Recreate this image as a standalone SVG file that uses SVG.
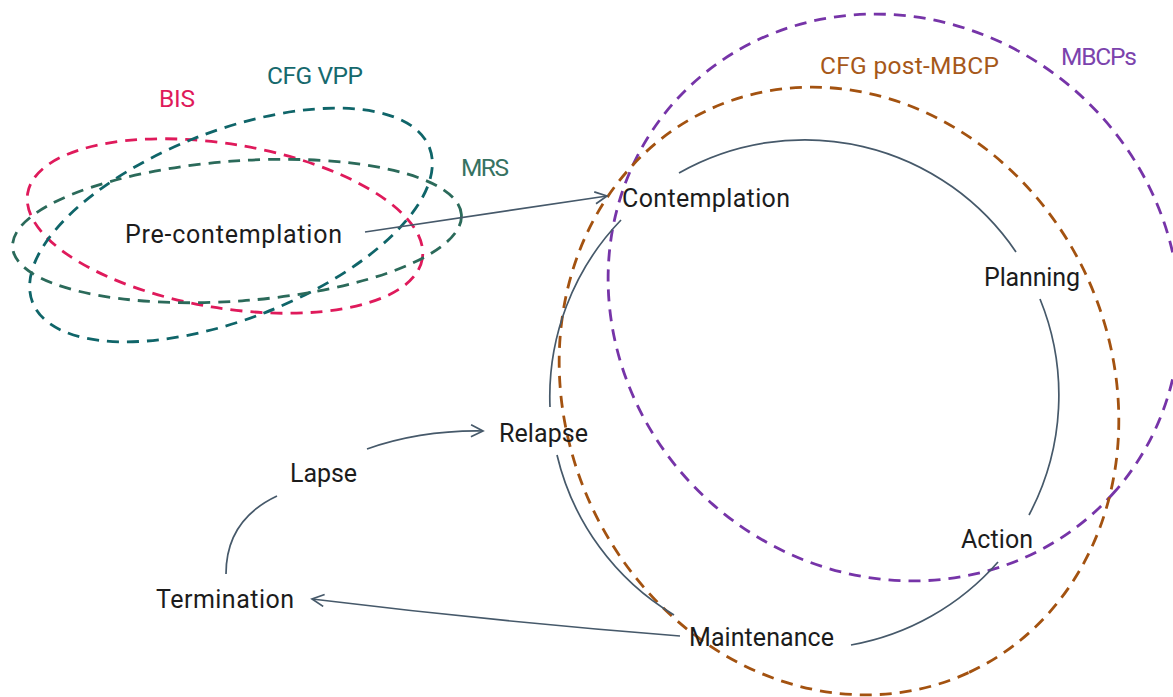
<svg xmlns="http://www.w3.org/2000/svg" width="1173" height="697" viewBox="0 0 1173 697">
<style>
.t{font-family:Roboto,"Liberation Sans",sans-serif;font-size:25px;fill:#1c1c1c}
.lab{font-family:Roboto,"Liberation Sans",sans-serif;font-size:24.5px}
.reg{fill:none;stroke-width:2.8;stroke-dasharray:12 8}
.c{fill:none;stroke:#46596a;stroke-width:1.7}
</style>
<defs>
<marker id="arr" markerUnits="userSpaceOnUse" markerWidth="16" markerHeight="16" refX="13" refY="7" orient="auto">
<path d="M1,1 L13,7 L1,13" fill="none" stroke="#46596a" stroke-width="1.7"/>
</marker>
</defs>
<rect width="1173" height="697" fill="#ffffff"/>

<g id="region-bis">
<ellipse class="reg" cx="225" cy="226" rx="200" ry="82" transform="rotate(9.4 225 226)" stroke="#df1a5b"/>
<text class="lab" x="159" y="107" textLength="36" fill="#df1a5b">BIS</text>
</g>
<g id="region-cfg-vpp">
<ellipse class="reg" cx="231" cy="225" rx="213" ry="94" transform="rotate(-21.3 231 225)" stroke="#0f6569"/>
<text class="lab" x="267" y="84" textLength="96" fill="#16696d">CFG VPP</text>
</g>
<g id="region-mrs">
<ellipse class="reg" cx="237" cy="231" rx="225" ry="70" transform="rotate(-4.2 237 231)" stroke="#2b6a5a"/>
<text class="lab" x="461" y="176" textLength="48" fill="#377262">MRS</text>
</g>
<g id="region-mbcps">
<ellipse class="reg" cx="894" cy="297.5" rx="294" ry="275" transform="rotate(41.3 894 297.5)" stroke="#7634a8"/>
<text class="lab" x="1061" y="65" textLength="76" fill="#7c43ad">MBCPs</text>
</g>
<g id="region-cfg-post-mbcp">
<ellipse class="reg" cx="839" cy="391" rx="310" ry="273" transform="rotate(65.3 839 391)" stroke="#a35210"/>
<text class="lab" x="820" y="74" textLength="179" fill="#a6581a">CFG post-MBCP</text>
</g>

<g id="connectors">
<path class="c" d="M365,232 L607,196" marker-end="url(#arr)"/>
<path class="c" d="M679,173 A255,255 0 0 1 1016,252"/>
<path class="c" d="M1040,299 A255,255 0 0 1 1029,515"/>
<path class="c" d="M998,562 A255,255 0 0 1 851,645"/>
<path class="c" d="M674,615 A255,255 0 0 1 557,455"/>
<path class="c" d="M550,407 A255,255 0 0 1 621,220"/>
<path class="c" d="M680,636 Q500,622 312,599" marker-end="url(#arr)"/>
<path class="c" d="M277,496 Q226,520 226,574"/>
<path class="c" d="M367,449 Q421,430 483,431" marker-end="url(#arr)"/>
</g>

<g id="node-precontemplation"><text class="t" x="125" y="243" textLength="217">Pre-contemplation</text></g>
<g id="node-contemplation"><text class="t" x="622" y="207" textLength="168">Contemplation</text></g>
<g id="node-planning"><text class="t" x="984" y="286" textLength="96">Planning</text></g>
<g id="node-action"><text class="t" x="961" y="548" textLength="72">Action</text></g>
<g id="node-maintenance"><text class="t" x="689" y="646" textLength="145">Maintenance</text></g>
<g id="node-relapse"><text class="t" x="499" y="442" textLength="89">Relapse</text></g>
<g id="node-lapse"><text class="t" x="290" y="482" textLength="67">Lapse</text></g>
<g id="node-termination"><text class="t" x="156" y="608" textLength="138">Termination</text></g>
</svg>
